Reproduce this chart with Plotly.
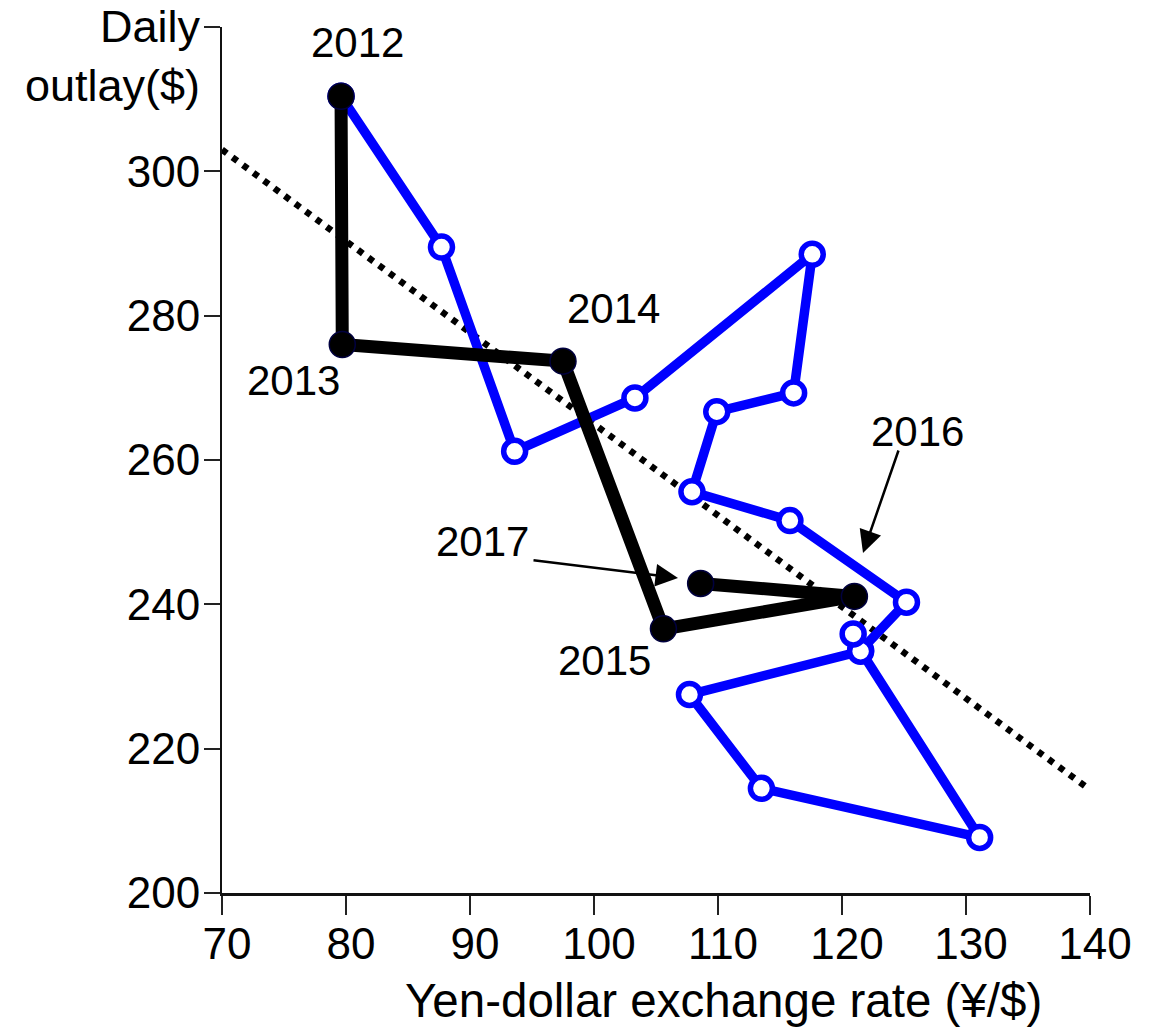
import plotly.graph_objects as go

# ---- data ----
years = ["2012", "2013", "2014", "2015", "2016", "2017"]
annual_rate = [79.6, 79.7, 97.5, 105.6, 121.0, 108.6]
annual_outlay = [310.4, 276.0, 273.7, 236.6, 241.1, 242.9]

period_rate = [79.6, 87.7, 93.6, 103.3, 117.6, 116.1, 109.9, 107.9, 115.8,
               125.2, 121.5, 131.1, 113.5, 107.7, 121.5, 120.9]
period_outlay = [310.4, 289.5, 261.2, 268.6, 288.5, 269.3, 266.7, 255.6, 251.6,
                 240.3, 233.6, 207.7, 214.5, 227.5, 233.5, 235.9]

trend_rate = [70, 140]
trend_outlay = [303.0, 214.3]

x_ticks = [70, 80, 90, 100, 110, 120, 130, 140]
y_ticks = [200, 220, 240, 260, 280, 300, 320]
y_ticktext = ["200", "220", "240", "260", "280", "300", ""]

FONT = "Liberation Sans, Arial, sans-serif"

fig = go.Figure()

fig.add_trace(go.Scatter(
    x=trend_rate, y=trend_outlay, mode="lines",
    line=dict(color="black", width=6.5, dash="6px,7px"),
    hoverinfo="skip", showlegend=False))

fig.add_trace(go.Scatter(
    x=period_rate, y=period_outlay, mode="lines+markers",
    line=dict(color="#0000ff", width=9.5),
    marker=dict(size=22, color="white", line=dict(color="#0000ff", width=5.5)),
    showlegend=False))

fig.add_trace(go.Scatter(
    x=annual_rate, y=annual_outlay, mode="lines+markers",
    line=dict(color="black", width=13),
    marker=dict(size=26, color="black", line=dict(color="#00003f", width=1.5)),
    text=years, showlegend=False))

# screen-pixel frame of the plot area
L, R, T, B = 222, 1090, 27, 893
W, H = 1163, 1030


def px(xp, yp):
    return (xp - L) / (R - L), (B - yp) / (B - T)


annots = []
label_pos = {"2012": (357, 42.5), "2013": (293, 380), "2014": (613, 308),
             "2015": (604, 660), "2016": (917, 431), "2017": (482, 541)}
for yr in years:
    xx, yy = px(*label_pos[yr])
    annots.append(dict(x=xx, y=yy, xref="paper", yref="paper", text=yr,
                       showarrow=False, xanchor="center", yanchor="middle",
                       font=dict(size=42, color="black", family=FONT)))

# arrows
for tip, tail in [((863, 553), (899, 449)), ((678, 578), (532, 560))]:
    xx, yy = px(*tip)
    annots.append(dict(x=xx, y=yy, xref="paper", yref="paper", text="",
                       showarrow=True, arrowhead=2, arrowsize=1.8, arrowwidth=2.5,
                       arrowcolor="black", ax=tail[0] - tip[0], ay=tail[1] - tip[1],
                       standoff=0, startstandoff=0))

# axis titles
xx, yy = px(203, 56)
annots.append(dict(x=xx, y=yy, xref="paper", yref="paper", text="Daily<br>outlay($)",
                   showarrow=False, xanchor="right", yanchor="middle", align="right",
                   font=dict(size=45, color="black", family=FONT)))
xx, yy = px(723.5, 1000)
annots.append(dict(x=xx, y=yy, xref="paper", yref="paper",
                   text="Yen-dollar exchange rate (¥/$)",
                   showarrow=False, xanchor="center", yanchor="middle",
                   font=dict(size=47.5, color="black", family=FONT)))

fig.update_layout(
    width=W, height=H,
    margin=dict(l=L, r=W - R, t=T, b=H - B),
    paper_bgcolor="white", plot_bgcolor="white",
    font=dict(family=FONT, color="black"),
    annotations=annots,
    xaxis=dict(range=[70, 140], tickvals=x_ticks, ticks="outside", ticklen=19,
               tickwidth=2, tickcolor="#222", showline=True, linecolor="#111",
               linewidth=2.5, showgrid=False, zeroline=False,
               tickfont=dict(size=44, family=FONT, color="black"),
               ticklabelshift=5, ticklabelstandoff=-9),
    yaxis=dict(range=[200, 320], tickvals=y_ticks, ticktext=y_ticktext,
               ticks="outside", ticklen=16, tickwidth=2, tickcolor="#222",
               showline=True, linecolor="#111", linewidth=2, showgrid=False,
               zeroline=False, tickfont=dict(size=44, family=FONT, color="black"),
               ticklabelstandoff=-5),
)

fig.write_html("out.html", config={"displayModeBar": False},
               post_script="document.body.style.margin='0';document.body.style.overflow='hidden';")
